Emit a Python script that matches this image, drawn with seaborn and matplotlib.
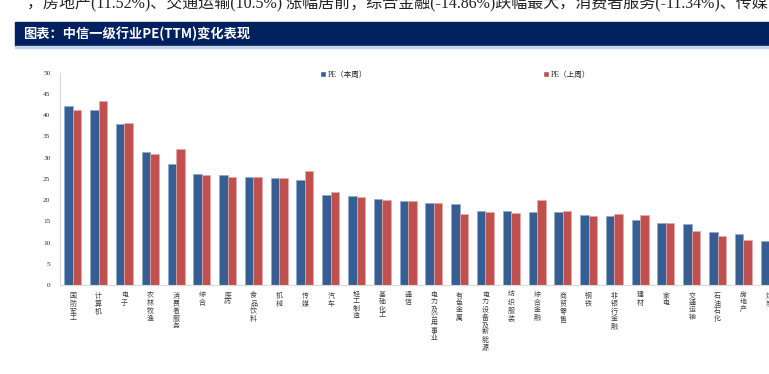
import numpy as np
import pandas as pd
import seaborn as sns
import matplotlib.pyplot as plt
from matplotlib.patches import Rectangle, Patch

# 中信一级行业 PE(TTM)，本周 vs 上周（图右侧被截断）
categories = ['国防军工', '计算机', '电子', '农林牧渔', '消费者服务', '综合', '医药',
              '食品饮料', '机械', '传媒', '汽车', '轻工制造', '基础化工', '通信',
              '电力及公用事业', '有色金属', '电力设备及新能源', '纺织服装', '综合金融',
              '商贸零售', '钢铁', '非银行金融', '建材', '家电', '交通运输', '石油石化',
              '房地产', '煤炭']
pe_this_week = [42.2, 41.2, 37.8, 31.3, 28.5, 26.1, 25.9, 25.5, 25.2, 24.8, 21.1, 20.9,
                20.3, 19.75, 19.4, 19.0, 17.5, 17.3, 17.2, 17.2, 16.5, 16.3, 15.4, 14.7,
                14.3, 12.4, 11.9, 10.4]
pe_last_week = [41.2, 43.4, 38.2, 30.8, 32.0, 25.9, 25.5, 25.4, 25.1, 26.9, 21.9, 20.8,
                20.1, 19.75, 19.3, 16.8, 17.2, 17.0, 20.1, 17.4, 16.3, 16.8, 16.5, 14.5,
                12.8, 11.5, 10.6, np.nan]
series = ['PE（本周）', 'PE（上周）']

blue = '#375e93'
red = '#c0504d'

df = pd.DataFrame({
    '行业': categories * 2,
    'PE': pe_this_week + pe_last_week,
    '周期': [series[0]] * len(categories) + [series[1]] * len(categories),
}).dropna()

sns.set_style('white')
plt.rcParams['font.family'] = ['Liberation Serif', 'Noto Sans CJK SC']

fig = plt.figure(figsize=(7.69, 3.74), dpi=100)
ax = fig.add_axes([0.078, 0.238, 1.006, 0.568])

sns.barplot(data=df, x='行业', y='PE', hue='周期', order=categories, hue_order=series,
            palette=[blue, red], width=0.66, saturation=1, legend=False, ax=ax)

# light bevel-like edges
for cont, ec in zip(ax.containers, ['#8eaad3', '#e3aaa8']):
    for p in cont:
        p.set_edgecolor(ec)
        p.set_linewidth(0.5)

ax.set_xlim(-0.5, 29.5)
ax.set_ylim(0, 50)
ax.set_yticks(range(0, 51, 5))
ax.set_xlabel('')
ax.set_ylabel('')
ax.set_xticks(range(len(categories)))
ax.set_xticklabels(['\n'.join(c) for c in categories], fontsize=5.0, rotation=0,
                   linespacing=1.15, va='top', ha='center', color='#404040')
ax.set_xticks(np.arange(-0.5, 30, 1), minor=True)
ax.tick_params(axis='x', which='major', length=0, pad=5)
ax.tick_params(axis='x', which='minor', length=3, color='#d9d9d9', width=0.8)
ax.tick_params(axis='y', labelsize=5.2, length=0, pad=7, labelcolor='#333333')
for s in ['top', 'right']:
    ax.spines[s].set_visible(False)
for s in ['left', 'bottom']:
    ax.spines[s].set_color('#d9d9d9')
    ax.spines[s].set_linewidth(0.8)

handles = [Patch(facecolor=blue, label=series[0]), Patch(facecolor=red, label=series[1])]
fig.legend(handles=handles, loc='center', bbox_to_anchor=(0.592, 0.80), ncol=2,
           frameon=False, fontsize=5.5, handlelength=0.8, handleheight=0.8,
           handletextpad=0.2, columnspacing=23)

# title bar
fig.patches.append(Rectangle((15 / 769, 1 - 46 / 374), 1, 24 / 374,
                             transform=fig.transFigure, color='#002060', zorder=0))
fig.patches.append(Rectangle((15 / 769, 1 - 47.5 / 374), 1, 1.5 / 374,
                             transform=fig.transFigure, color='#c6d4ea', zorder=0))
fig.text(23 / 769, 1 - 34 / 374, '图表：中信一级行业PE(TTM)变化表现', color='white',
         fontsize=9.5, fontweight='bold', va='center', family=['Noto Sans CJK SC'])

fig.text(27 / 769, 1 - 4 / 374,
         '，房地产(11.52%)、交通运输(10.5%) 涨幅居前；综合金融(-14.86%)跌幅最大，'
         '消费者服务(-11.34%)、传媒',
         fontsize=11.5, va='center', color='#222222')

fig.savefig('out.png', dpi=100)
